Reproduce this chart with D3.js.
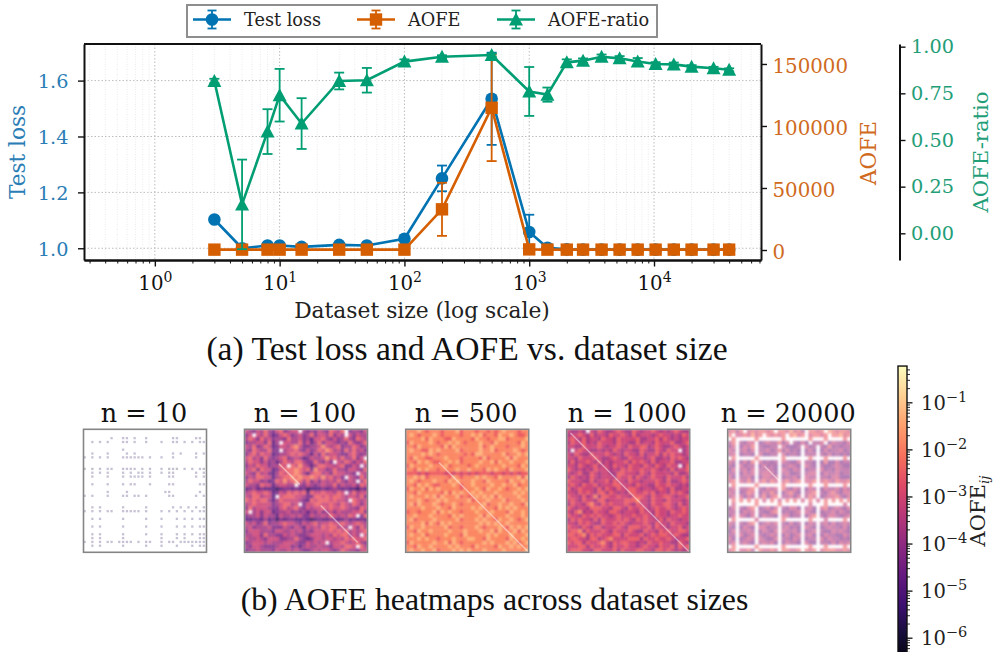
<!DOCTYPE html>
<html>
<head>
<meta charset="utf-8">
<script src="https://cdn.jsdelivr.net/npm/d3@7"></script>
<style>
  html, body { margin: 0; padding: 0; background: #fff; overflow: hidden; }
  svg { display: block; }
  text { font-family: "DejaVu Serif", serif; }
  .caption { font-family: "Liberation Serif", serif; fill: #111; }
</style>
</head>
<body>
<script>
// ---- data ----
let sizes = [3, 5, 8, 10, 15, 30, 50, 100, 200, 500, 1000, 1400, 2000, 2700, 3800, 5300, 7400, 10300, 14400, 20000, 30000, 40000];

let testLoss    = [1.103, 1.0, 1.01, 1.01, 1.005, 1.012, 1.01, 1.034, 1.25, 1.535, 1.058, 1.002, 0.996, 0.995, 0.995, 0.995, 0.995, 0.995, 0.995, 0.995, 0.995, 0.995];
let testLossErr = [0.004, 0.002, 0.003, 0.003, 0.002, 0.003, 0.003, 0.005, 0.046, 0.165, 0.062, 0.003, 0.001, 0.001, 0.001, 0.001, 0.001, 0.001, 0.001, 0.001, 0.001, 0.001];

let aofe    = [300, 300, 300, 300, 300, 300, 300, 300, 32800, 114700, 500, 300, 300, 300, 300, 300, 300, 300, 300, 300, 300, 300];
let aofeErr = [50, 50, 50, 50, 50, 50, 50, 100, 21400, 43000, 300, 100, 50, 50, 50, 50, 50, 50, 50, 50, 50, 50];

let ratio    = [0.816, 0.155, 0.545, 0.74, 0.588, 0.816, 0.82, 0.92, 0.946, 0.955, 0.76, 0.743, 0.916, 0.925, 0.946, 0.9375, 0.921, 0.907, 0.905, 0.893, 0.884, 0.876];
let ratioErr = [0.012, 0.24, 0.12, 0.141, 0.136, 0.045, 0.066, 0.012, 0.008, 0.008, 0.131, 0.038, 0.016, 0.012, 0.012, 0.012, 0.018, 0.01, 0.01, 0.008, 0.008, 0.008];

let legendLabels = ['Test loss', 'AOFE', 'AOFE-ratio'];
let lossTicks  = [1.0, 1.2, 1.4, 1.6];
let aofeTicks  = [0, 50000, 100000, 150000];
let ratioTicks = [0, 0.25, 0.5, 0.75, 1];
let decades    = [0, 1, 2, 3, 4];
let cbarDecades = [-1, -2, -3, -4, -5, -6];

let panelTitles = ['n = 10', 'n = 100', 'n = 500', 'n = 1000', 'n = 20000'];

// heatmap cells, estimated by eye on a 32x32 grid.
// '.' is an empty (white) cell, a digit is a level on the log colour scale
let cells10 = [
"................................",
"................................",
".......1..11.1..1......11....11.",
"..1.1.1...11.1..1...1..11.1.1.11",
"................................",
"..........1.....................",
"..1...1....1.1.........1.1...1.1",
"1.1.1.1...111111.1..1..1.....1..",
"................................",
"................................",
"0.0.1.11..1111.1.1..1.010.1.1.10",
"..1.1.1...1.1.11.1..1.11.....1.1",
"..1...1...1.1111.1....11.....1.1",
"................................",
"..1...1...1.11...1....11......11",
"................................",
"......1....1.........11.......1.",
"1.1...1...11.11.1.....11.....1.1",
"................................",
"................................",
"..1.1.....1.....1......1.1.1.1.1",
"1.1.1.11..11111.1...1.1.1.1.1.11",
"................................",
"..1.1.....1.....1...1...1.1.1.11",
"................................",
"..1.1.....1.....1...1...1.1.1.11",
"................................",
"..1.1.....1.....1...1...1.1.1.11",
"..1.1.....1.........1...1.1...11",
"1.1.1.11.1111.1.11..1.11.1111111",
"..1.1.....1.....1...1...1...1.11",
"................................"
];
let cells100 = [
"54354643563455.43435436546.34435",
"35.54642356534534635546354.53544",
"46536453443644534255643534643654",
"344553624.5544635246355434364346",
"54634652355467533445754563446534",
"436544633.4556435346576453646453",
"35646552344565654253645543356434",
"5645364345634542354457564644635",
"46553534246546643364353.54653546",
"35465534465.657542466554563354.4",
"45636552356667656375534644355436",
"54364532465667642566453655443.54",
"35466552456676766765756453.54364",
"46553423657567646353545464354.46",
"5443655245544.435434544635445365",
"23423222123323231222323432322132",
"45655652354656562655655465.46455",
"54664552.56665543366565665455463",
"656566424655554326566656554.6545",
"45655553456645.35566556546546535",
"36455543356456435455656556544365",
"5.453552344534342435345354445563",
"34453544254454533544546545465.36",
"22332423132332232123223322423232",
"54534634456554354564556556545654",
"453444533354354254546566454.5364",
"35554443554454534355556565645456",
"445536443354543345554546566454.5",
"54454355533446432355455454656556",
"345554544455543354545.4556545643",
"43554333455534245445443554665.64",
"34454443544545433454554346544355"
];
let cells500 = [
"77787677767778677767767678777677",
"78767778767777677878677687787667",
"77778687776687777687767788677778",
"68777787677878767778776877777687",
"77687777768687777778678777677787",
"78776687877778677778778677778767",
"77778787677777767688777778677878",
"76877667778777677776867777868777",
"77687876677878677778778687787778",
"68777787778677776787777778777687",
"77687877677778778777687877687778",
"66656566665656565656665665656566",
"77878677777687677787877687777868",
"78767778776878777877687777687787",
"77687876677787677877778778778677",
"68778687877777677787687787677878",
"77687777768687877878777877778787",
"78777878687778676787878687777877",
"77787677878777778677787778677787",
"78687778767787677777867787787768",
"77778777877687777878777687878777",
"67767778687877677787778777687787",
"77877787777687877778687777877787",
"78677778777778677787877687787678",
"77778687687877777778787877877777",
"68778777778677677787677787687878",
"77687787777877787778778687778687",
"78778677778777687777787877787778",
"77787877677787778877687777687787",
"68777778778687677777878777878678",
"77687787777878777687777687787877",
"78778778677787878777877778777778"
];
let cells1000 = [
"54454.54654456544654556545456544",
"45565464554655654645554565545465",
"56546455465546555564455646545455",
"46556454655546554464554655564456",
"55446555654556546556645654456545",
"4.565544545465455446544654655.45",
"54654465556545465546455646565545",
"55465556544565446555456445465654",
"46455654645455564656546455564455",
"55465456455465546554654654655.46",
"65454546555454656556556545464556",
"54564465455446655546546555546445",
"46545465455546556465456554655564",
"65554464556465546554555654644565",
"56546556455566555465544655655454",
"64565554646546556654554565464455",
"55465654664654546655656455465654",
"65546457466556554666546556654556",
"56546554664555566675546554655545",
"46554675465655565465546556654645",
"65455466655466546556545655654565",
"54674546554665455546554655465565",
"65546565655456555655654655455655",
"46565546465556565465655464655455",
"55465654465565654555654655465554",
"65546546645556546665564655455645",
"56674655565465556544655465655665",
"66567465655566465556456566556544",
"56655466456755556664655655654556",
"65664655675465665545465565544654",
"55566465565465565545655465564656",
"56665546655564655566554665654545"
];
let cells20000 = [
"5646.5656656.6657564.6656.765665",
"6.5565756.65656.6756.56656.66756",
".6.....6......6......6...6....6.",
"46.4355.34544635.4353.445.354435",
"35.3546.43344.53334.534.43634344",
"54.4535.44534635343.353.35344534",
"45.3443.53344.53443.444.43534343",
".6.....6......6......6...6....6.",
"54.3536.53434.54335.443.36335344",
"43.5344.35343.34543.543.43345433",
"35.4535.44543.54354.344.53435444",
"44.3545.45553.45334.455.35445344",
"53.4453.35545.34453.544.44355333",
"56.5464.56465.56456.556.56546556",
".6.....6......6......6...6....6.",
"45.4456.43545.64354.354.35445354",
"54.3465.35464.35643.456.43564355",
"45.5354.46356.44535.465.34556435",
".6.6.6.6.5.6.5.6.6.5.6.5.6.6.6.6",
".5.....6.....6.......5...6....5.",
"35.4356.34535.43553.453.56345435",
"44.3545.43356.34345.543.34453543",
"35.5435.35443.55344.356.43554345",
".6.....5......6......6...5....6.",
"54.4356.34545.43534.354.45353454",
"43.3543.55344.45343.543.34544353",
"35.4454.35435.54453.345.43354543",
"44.5345.43454.35345.453.35443354",
"53.3454.54335.44354.344.53544343",
"45.4543.45453.35443.533.44353545",
".6.....6......6......6...6....6.",
"56.5564.65565.66556.656.56665565"
];
let panelCells = [cells10, cells100, cells500, cells1000, cells20000];

// stretches of the thin pale diagonal, as fractions of the panel
let diagStretches = [[], [[0.28, 0.45], [0.62, 0.92]], [[0.27, 1]], [[0.03, 1]], [[0.3, 0.42]]];

// ---- layout ----
let W = 993, H = 652;
let blue = '#0173b2', orange = '#d55e00', green = '#029e73';
let blueTxt = '#2a7db5', orangeTxt = '#cf6a20', greenTxt = '#1f9e78';

let svg = d3.select('body').append('svg').attr('width', W).attr('height', H);

let defs = svg.append('defs');
defs.append('filter').attr('id', 'soft').attr('x', 0).attr('y', 0).attr('width', 1).attr('height', 1)
  .append('feGaussianBlur').attr('stdDeviation', 0.8);
defs.append('filter').attr('id', 'softer').attr('x', 0).attr('y', 0).attr('width', 1).attr('height', 1)
  .append('feGaussianBlur').attr('stdDeviation', 0.6);

let box = {left: 84, right: 761, top: 44, bottom: 260};

let x = d3.scaleLog().domain([0.2706, 72000]).range([box.left, box.right]);
let yLoss = d3.scaleLinear().domain([0.958, 1.731]).range([box.bottom, box.top]);
let yAofe = d3.scaleLinear().domain([-8060, 166100]).range([box.bottom, box.top]);
let yRatio = d3.scaleLinear().domain([-0.143, 1.0143]).range([box.bottom, box.top]);

let minorVals = [];
for (let d = -1; d <= 4; d++) {
  for (let m = 2; m <= 9; m++) {
    let v = m * Math.pow(10, d);
    if (v >= x.domain()[0] && v <= x.domain()[1]) minorVals.push(v);
  }
}
let majorVals = decades.map(d => Math.pow(10, d));

// grid
let grid = svg.append('g');
grid.selectAll('.minor').data(minorVals).join('line')
  .attr('x1', d => x(d)).attr('x2', d => x(d))
  .attr('y1', box.top).attr('y2', box.bottom)
  .attr('stroke', '#e6e6e6').attr('stroke-width', 0.8).attr('stroke-dasharray', '1,1.5');
grid.selectAll('.major').data(majorVals).join('line')
  .attr('x1', d => x(d)).attr('x2', d => x(d))
  .attr('y1', box.top).attr('y2', box.bottom)
  .attr('stroke', '#bdbdbd').attr('stroke-width', 1).attr('stroke-dasharray', '1.5,2');
grid.selectAll('.hor').data(lossTicks).join('line')
  .attr('x1', box.left).attr('x2', box.right)
  .attr('y1', d => yLoss(d)).attr('y2', d => yLoss(d))
  .attr('stroke', '#bdbdbd').attr('stroke-width', 1).attr('stroke-dasharray', '1.5,2');

function DrawSeries(vals, errs, y, col, marker) {
  let g = svg.append('g');
  let line = d3.line().x((d, i) => x(sizes[i])).y(d => y(d));
  g.append('path').datum(vals).attr('d', line)
    .attr('fill', 'none').attr('stroke', col).attr('stroke-width', 2.6);
  sizes.forEach((s, i) => {
    let cx = x(s), lo = y(vals[i] - errs[i]), hi = y(vals[i] + errs[i]);
    g.append('line').attr('x1', cx).attr('x2', cx).attr('y1', lo).attr('y2', hi)
      .attr('stroke', col).attr('stroke-width', 1.8);
    [lo, hi].forEach(c => g.append('line').attr('x1', cx - 5).attr('x2', cx + 5).attr('y1', c).attr('y2', c)
      .attr('stroke', col).attr('stroke-width', 1.8));
    AddMarker(g, marker, cx, y(vals[i]), col);
  });
}

function AddMarker(g, marker, cx, cy, col) {
  if (marker == 'circle') {
    g.append('circle').attr('cx', cx).attr('cy', cy).attr('r', 6.3).attr('fill', col);
  } else if (marker == 'square') {
    g.append('rect').attr('x', cx - 6.2).attr('y', cy - 6.2).attr('width', 12.4).attr('height', 12.4).attr('fill', col);
  } else {
    g.append('path').attr('transform', 'translate(' + cx + ',' + cy + ')')
      .attr('d', 'M0,-7 L7,6 L-7,6 Z').attr('fill', col);
  }
}

DrawSeries(testLoss, testLossErr, yLoss, blue, 'circle');
DrawSeries(aofe, aofeErr, yAofe, orange, 'square');
DrawSeries(ratio, ratioErr, yRatio, green, 'triangle');

function StyleAxis(g, fill, size) {
  g.selectAll('path.domain').attr('stroke', '#111').attr('stroke-width', 2);
  g.selectAll('.tick line').attr('stroke', '#111').attr('stroke-width', 1.4);
  g.selectAll('text').attr('fill', fill).attr('font-size', size);
}

// x axis: minor then major
let xMinor = svg.append('g').attr('transform', 'translate(0,' + box.bottom + ')')
  .call(d3.axisBottom(x).tickValues(minorVals).tickSizeInner(3.5).tickSizeOuter(0).tickFormat(''));
StyleAxis(xMinor, '#111', 0);
xMinor.selectAll('.tick line').attr('stroke-width', 1);
let xMajor = svg.append('g').attr('transform', 'translate(0,' + box.bottom + ')')
  .call(d3.axisBottom(x).tickValues(majorVals).tickSizeInner(6.5).tickSizeOuter(0).tickFormat(''));
StyleAxis(xMajor, '#111', 19);
xMajor.selectAll('.tick').each(function(d, i) {
  let t = d3.select(this).append('text').attr('y', 29.5).attr('text-anchor', 'middle')
    .attr('fill', '#111').attr('font-size', 19.8);
  t.append('tspan').text('10');
  t.append('tspan').attr('dy', -7.5).attr('font-size', 14).text(decades[i]);
});

let yl = svg.append('g').attr('transform', 'translate(' + box.left + ',0)')
  .call(d3.axisLeft(yLoss).tickValues(lossTicks).tickSizeInner(6).tickSizeOuter(0).tickPadding(9.5).tickFormat(d3.format('.1f')));
StyleAxis(yl, blueTxt, 19.3);
yl.selectAll('.tick text').attr('dy', '0.36em');

let yr = svg.append('g').attr('transform', 'translate(' + box.right + ',0)')
  .call(d3.axisRight(yAofe).tickValues(aofeTicks).tickSizeInner(6).tickSizeOuter(0).tickPadding(5.5).tickFormat(d3.format('d')));
StyleAxis(yr, orangeTxt, 19.8);
yr.selectAll('.tick text').attr('dy', '0.42em');

let r3 = svg.append('g').attr('transform', 'translate(899.5,0)')
  .call(d3.axisRight(yRatio).tickValues(ratioTicks).tickSizeInner(6).tickSizeOuter(0).tickPadding(5.5).tickFormat(d3.format('.2f')));
StyleAxis(r3, greenTxt, 19.3);

// top spine
svg.append('line').attr('x1', box.left).attr('x2', box.right).attr('y1', box.top).attr('y2', box.top)
  .attr('stroke', '#111').attr('stroke-width', 1.8);

// axis labels
function RotLabel(txt, lx, ly, col, size) {
  return svg.append('text').attr('transform', 'translate(' + lx + ',' + ly + ') rotate(-90)')
    .attr('text-anchor', 'middle').attr('fill', col).attr('font-size', size).text(txt);
}
RotLabel('Test loss', 24.5, 152, blueTxt, 21.6);
RotLabel('AOFE', 875.5, 153, orangeTxt, 21.6);
RotLabel('AOFE-ratio', 988, 152, greenTxt, 21.2);
svg.append('text').attr('x', 422).attr('y', 318).attr('text-anchor', 'middle')
  .attr('fill', '#222').attr('font-size', 21.8).text('Dataset size (log scale)');

// legend
svg.append('rect').attr('x', 187).attr('y', 5).attr('width', 470).attr('height', 32)
  .attr('fill', '#fff').attr('stroke', '#8e8e8e').attr('stroke-width', 2);
let legendX = [193, 357, 497];
let legendCols = [blue, orange, green];
let legendMarks = ['circle', 'square', 'triangle'];
legendLabels.forEach((lab, i) => {
  let g = svg.append('g');
  let lx = legendX[i], cx = lx + 19, cy = 19.5;
  g.append('line').attr('x1', lx).attr('x2', lx + 38).attr('y1', cy).attr('y2', cy)
    .attr('stroke', legendCols[i]).attr('stroke-width', 2.6);
  g.append('line').attr('x1', cx).attr('x2', cx).attr('y1', cy - 9).attr('y2', cy + 9)
    .attr('stroke', legendCols[i]).attr('stroke-width', 1.8);
  [cy - 9, cy + 9].forEach(c => g.append('line').attr('x1', cx - 4.5).attr('x2', cx + 4.5).attr('y1', c).attr('y2', c)
    .attr('stroke', legendCols[i]).attr('stroke-width', 1.8));
  AddMarker(g, legendMarks[i], cx, cy, legendCols[i]);
  g.append('text').attr('x', lx + 51).attr('y', 26).attr('fill', '#222').attr('font-size', 17.7).text(lab);
});

// captions
svg.append('text').attr('class', 'caption').attr('x', 467).attr('y', 360).attr('text-anchor', 'middle')
  .attr('font-size', 33.6).text('(a) Test loss and AOFE vs. dataset size');
svg.append('text').attr('class', 'caption').attr('x', 494.5).attr('y', 610).attr('text-anchor', 'middle')
  .attr('font-size', 31.8).text('(b) AOFE heatmaps across dataset sizes');

// heatmaps
let cbarLow = -6.6, cbarHigh = -0.23;
let colorOf = d3.scaleSequential(d3.interpolateMagma).domain([cbarLow, cbarHigh]);
let levelToLog = d3.scaleLinear().domain([0, 9]).range([-6.2, -0.62]);

let panelLeft = [83.5, 244.5, 405.7, 566.7, 727.7];
let panelOpacity = [0.25, 0.88, 1, 0.95, 0.6];
let panelFill = [0.55, 1, 1, 1, 1];
let panelSize = 123, panelTop = 429.3;

panelCells.forEach((rows, p) => {
  let px = d3.scaleBand().domain(d3.range(rows.length)).range([panelLeft[p], panelLeft[p] + panelSize]);
  let py = d3.scaleBand().domain(d3.range(rows.length)).range([panelTop, panelTop + panelSize]);
  let g = svg.append('g');
  let inner = g.append('g').attr('filter', p == 0 ? 'url(#softer)' : 'url(#soft)').attr('opacity', panelOpacity[p]);
  let flat = [];
  rows.forEach((row, i) => {
    d3.range(rows.length).forEach(j => {
      let c = row[j];
      if (c !== undefined && c !== '.') flat.push({i: i, j: j, v: levelToLog(+c)});
    });
  });
  let side = px.bandwidth() * panelFill[p];
  inner.selectAll('rect').data(flat).join('rect')
    .attr('x', d => px(d.j)).attr('y', d => py(d.i))
    .attr('width', side + 0.2).attr('height', side + 0.2)
    .attr('fill', d => colorOf(d.v));
  let fx = d3.scaleLinear().domain([0, 1]).range([panelLeft[p], panelLeft[p] + panelSize]);
  let fy = d3.scaleLinear().domain([0, 1]).range([panelTop, panelTop + panelSize]);
  g.selectAll('.diag').data(diagStretches[p]).join('line')
    .attr('x1', d => fx(d[0])).attr('y1', d => fy(d[0]))
    .attr('x2', d => fx(d[1])).attr('y2', d => fy(d[1]))
    .attr('stroke', '#fff').attr('stroke-opacity', 0.45).attr('stroke-width', 1.5);
  g.append('rect').attr('x', panelLeft[p]).attr('y', panelTop).attr('width', panelSize).attr('height', panelSize)
    .attr('fill', 'none').attr('stroke', '#858585').attr('stroke-width', 1.6);
  svg.append('text').attr('x', panelLeft[p] + panelSize / 2 - 1).attr('y', 422).attr('text-anchor', 'middle')
    .attr('fill', '#111').attr('font-size', 25.5).text(panelTitles[p]);
});

// colorbar
let yBar = d3.scaleLinear().domain([-1, -6]).range([402.3, 637.7]);
let barL = 898, barW = 9;
let barGrad = defs.append('linearGradient').attr('id', 'bar').attr('x1', 0).attr('x2', 0).attr('y1', 1).attr('y2', 0);
d3.range(0, 1.001, 0.1).forEach(t => {
  barGrad.append('stop').attr('offset', t).attr('stop-color', d3.interpolateMagma(t));
});
svg.append('rect').attr('x', barL).attr('y', yBar(cbarHigh)).attr('width', barW).attr('height', yBar(cbarLow) - yBar(cbarHigh))
  .attr('fill', 'url(#bar)').attr('stroke', '#111').attr('stroke-width', 1.4);

let cbarMinor = [];
for (let d = -7; d <= -1; d++) {
  for (let m = 2; m <= 9; m++) {
    let v = Math.log10(m) + d;
    if (v <= cbarHigh && v >= cbarLow) cbarMinor.push(v);
  }
}
let cbarAxis = svg.append('g').attr('transform', 'translate(' + (barL + barW) + ',0)');
cbarAxis.append('g').call(d3.axisRight(yBar).tickValues(cbarMinor).tickSize(3).tickFormat(''))
  .call(g => g.select('path.domain').remove())
  .selectAll('.tick line').attr('stroke', '#111').attr('stroke-width', 0.9);
let cbarMajor = cbarAxis.append('g').call(d3.axisRight(yBar).tickValues(cbarDecades).tickSize(5.5).tickFormat(''));
cbarMajor.select('path.domain').remove();
cbarMajor.selectAll('.tick line').attr('stroke', '#111').attr('stroke-width', 1.3);
cbarMajor.selectAll('.tick').each(function(d) {
  let t = d3.select(this).append('text').attr('x', 14).attr('y', 7).attr('fill', '#222').attr('font-size', 19.5);
  t.append('tspan').text('10');
  t.append('tspan').attr('dy', -8).attr('font-size', 14.5).text('\u2212' + Math.abs(d));
});
let cbLab = svg.append('text').attr('transform', 'translate(985,511) rotate(-90)')
  .attr('text-anchor', 'middle').attr('fill', '#222').attr('font-size', 21);
cbLab.append('tspan').text('AOFE');
cbLab.append('tspan').attr('dy', 4).attr('font-size', 13.5).attr('font-style', 'italic').text('ij');
</script>
</body>
</html>
